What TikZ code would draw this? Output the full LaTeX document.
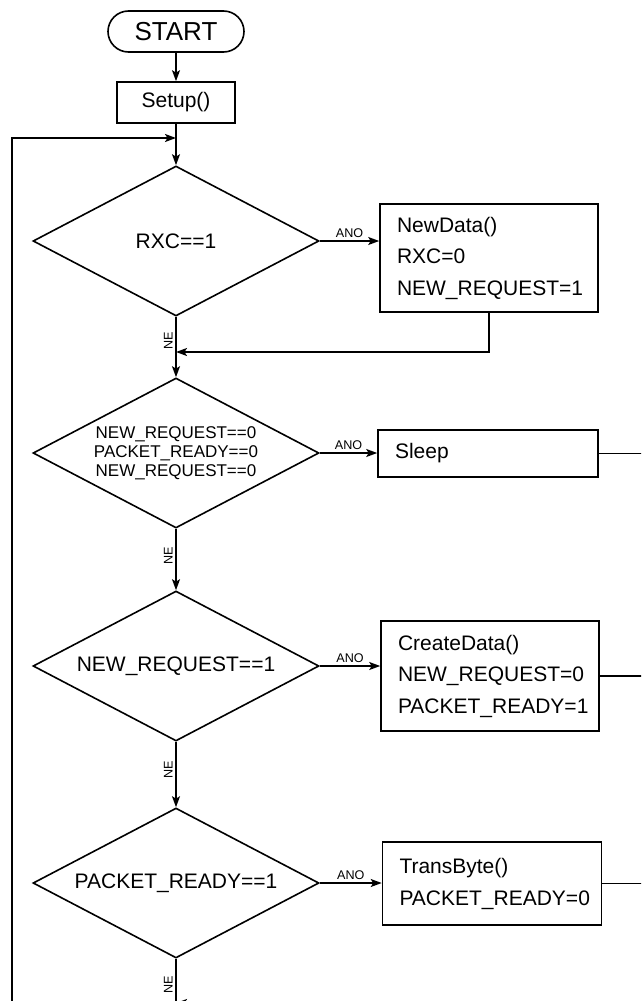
\documentclass[tikz,border=0pt]{standalone}
\usepackage{fontspec}
\setmainfont{Liberation Sans}
\usetikzlibrary{arrows.meta,shapes.geometric,shapes.misc}

\tikzset{
	terminal/.style = {draw, rounded rectangle, minimum width=136pt, minimum height=41pt,
		inner sep=0pt, font=\fontsize{26}{28}\selectfont},
	process/.style = {draw, rectangle, inner xsep=17pt, inner ysep=0pt, align=left,
		font=\fontsize{21}{31.5}\selectfont},
	decision/.style = {draw, diamond, aspect=1.9, minimum width=286pt, minimum height=150pt,
		inner sep=0pt, align=center, font=\fontsize{21}{23}\selectfont},
	ano/.style = {above, inner sep=2.5pt, font=\fontsize{12.6}{14}\selectfont},
	ne/.style = {rotate=90, anchor=south, inner sep=2.5pt, font=\fontsize{12.6}{14}\selectfont}
}

\begin{document}
\begin{tikzpicture}[x=1pt, y=-1pt, line width=1.6pt,
	>={Stealth[length=11pt,width=8pt,inset=2.5pt]}]

	\useasboundingbox (0,0) rectangle (641,1001);
	\clip (0,0) rectangle (641,1001);

	% main column
	\node[terminal] (start) at (176,31.5) {START};
	\node[process, minimum width=118pt, minimum height=41pt] (setup) at (176,102.5) {Setup()};
	\node[decision] (rxc) at (176,241) {RXC==1};
	\node[decision, font=\fontsize{17}{19}\selectfont] (idle) at (176,453)
		{NEW\_REQUEST==0\\PACKET\_READY==0\\NEW\_REQUEST==0};
	\node[decision] (newreq) at (176,666) {NEW\_REQUEST==1};
	\node[decision] (pktrdy) at (176,883) {PACKET\_READY==1};

	% right column
	\node[process, text width=184pt, minimum height=108pt] (newdata) at (489,258)
		{NewData()\\RXC=0\\NEW\_REQUEST=1};
	\node[process, text width=186pt, minimum height=47pt] (sleep) at (488,453.5) {Sleep};
	\node[process, text width=184pt, minimum height=110pt] (create) at (490,676)
		{CreateData()\\NEW\_REQUEST=0\\PACKET\_READY=1};
	\node[process, text width=185pt, minimum height=83pt, font=\fontsize{21}{32}\selectfont]
		(trans) at (492,883.5) {TransByte()\\PACKET\_READY=0};

	% join points and loose ends
	\coordinate (loopin) at (176,138);
	\coordinate (loopbot) at (12,1010);
	\coordinate (merge) at (176,352);
	\coordinate (bottom) at (176,1010);
	\coordinate (bottomin) at (176,1003);
	\coordinate (bottomr) at (400,1003);
	\coordinate (redge) at (645,0);

	\draw[->] (start) -- (setup);
	\draw[->] (setup) -- (rxc);
	\draw[->] (loopbot) |- (loopin);

	\draw[->] (rxc.east) -- node[ano]{ANO} (rxc.east -| newdata.west);
	\draw[->] (rxc.south) -- node[ne, pos=0.4]{NE} (idle.north);
	\draw[->] (newdata.south) |- (merge);

	\draw[->] (idle.east) -- node[ano]{ANO} (idle.east -| sleep.west);
	\draw (sleep.east) -- (sleep.east -| redge);
	\draw[->] (idle.south) -- node[ne, pos=0.44]{NE} (newreq.north);

	\draw[->] (newreq.east) -- node[ano]{ANO} (newreq.east -| create.west);
	\draw (create.east) -- (create.east -| redge);
	\draw[->] (newreq.south) -- node[ne, pos=0.43]{NE} (pktrdy.north);

	\draw[->] (pktrdy.east) -- node[ano]{ANO} (pktrdy.east -| trans.west);
	\draw (trans.east) -- (trans.east -| redge);
	\draw (pktrdy.south) -- node[ne, pos=0.5]{NE} (bottom);
	\draw[->] (bottomr) -- (bottomin);

\end{tikzpicture}
\end{document}
